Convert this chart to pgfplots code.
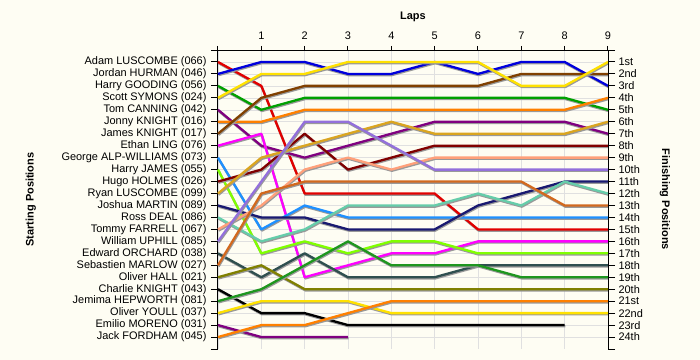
\documentclass[border=0pt]{standalone}
\usepackage{pgfplots}
\pgfplotsset{compat=1.18}
\usepackage{fontspec}
\setmainfont{Liberation Sans}
\definecolor{bg}{RGB}{254,253,243}
\definecolor{c1}{RGB}{225,0,0}
\definecolor{c2}{RGB}{0,0,220}
\definecolor{c3}{RGB}{0,160,0}
\definecolor{c4}{RGB}{255,225,0}
\definecolor{c5}{RGB}{128,0,128}
\definecolor{c6}{RGB}{255,128,0}
\definecolor{c7}{RGB}{128,64,0}
\definecolor{c8}{RGB}{255,0,255}
\definecolor{c9}{RGB}{30,144,255}
\definecolor{c10}{RGB}{128,255,0}
\definecolor{c11}{RGB}{128,0,0}
\definecolor{c12}{RGB}{218,165,32}
\definecolor{c13}{RGB}{25,25,112}
\definecolor{c14}{RGB}{102,205,170}
\definecolor{c15}{RGB}{255,160,122}
\definecolor{c16}{RGB}{147,112,219}
\definecolor{c17}{RGB}{47,79,79}
\definecolor{c18}{RGB}{210,105,30}
\definecolor{c19}{RGB}{128,128,0}
\definecolor{c20}{RGB}{0,0,0}
\definecolor{c21}{RGB}{30,150,30}
\definecolor{c22}{RGB}{255,225,0}
\definecolor{c23}{RGB}{128,0,128}
\definecolor{c24}{RGB}{255,128,0}
\begin{document}
\begin{tikzpicture}
\fill[bg] (-218bp,-11bp) rectangle (482bp,349bp);
\begin{axis}[
  at={(0,0)}, anchor=south west,
  scale only axis, width=390bp, height=299bp,
  xmin=0, xmax=9, ymin=0, ymax=25, y dir=reverse,
  axis x line*=top, axis y line*=left,
  axis line style={line width=1bp, black},
  tick align=outside,
  major tick length=7bp,
  xtick style={/pgfplots/major tick length=4bp, line width=1bp, black},
  ytick style={line width=1bp, black},
  xtick={0,...,9}, xticklabels={,1,2,3,4,5,6,7,8,9},
  ytick={1,...,24},
  yticklabels={Adam LUSCOMBE (066),Jordan HURMAN (046),Harry GOODING (056),Scott SYMONS (024),Tom CANNING (042),Jonny KNIGHT (016),James KNIGHT (017),Ethan LING (076),George ALP-WILLIAMS (073),Harry JAMES (055),Hugo HOLMES (026),Ryan LUSCOMBE (099),Joshua MARTIN (089),Ross DEAL (086),Tommy FARRELL (067),William UPHILL (085),Edward ORCHARD (038),Sebastien MARLOW (027),Oliver HALL (021),Charlie KNIGHT (043),Jemima HEPWORTH (081),Oliver YOULL (037),Emilio MORENO (031),Jack FORDHAM (045)},
  extra y ticks={0,25}, extra y tick labels={},
  extra y tick style={grid=none},
  grid=major, grid style={line width=0.6bp, black!12},
  tick label style={font=\fontsize{11}{12}\selectfont},
  yticklabel style={xshift=-1bp},
  xlabel={\textbf{Laps}}, ylabel={\textbf{Starting Positions}},
  label style={font=\fontsize{11}{12}\selectfont},
  xlabel style={at={(axis description cs:0.5,1.11)}, anchor=center},
  ylabel style={at={(axis description cs:-0.48,0.5)}, anchor=center, rotate=0},
  every axis plot/.append style={line width=2.3bp, no markers, line join=round,
    preaction={draw=black!40, line width=2.3bp, transform canvas={xshift=0.6bp,yshift=-1.2bp}}},
  clip=false,
]
\addplot[c1] coordinates {(0,1)(1,3)(2,12)(3,12)(4,12)(5,12)(6,15)(7,15)(8,15)(9,15)};
\addplot[c2] coordinates {(0,2)(1,1)(2,1)(3,2)(4,2)(5,1)(6,2)(7,1)(8,1)(9,3)};
\addplot[c3] coordinates {(0,3)(1,5)(2,4)(3,4)(4,4)(5,4)(6,4)(7,4)(8,4)(9,5)};
\addplot[c5] coordinates {(0,5)(1,8)(2,9)(3,8)(4,7)(5,6)(6,6)(7,6)(8,6)(9,7)};
\addplot[c6] coordinates {(0,6)(1,6)(2,5)(3,5)(4,5)(5,5)(6,5)(7,5)(8,5)(9,4)};
\addplot[c7] coordinates {(0,7)(1,4)(2,3)(3,3)(4,3)(5,3)(6,3)(7,2)(8,2)(9,2)};
\addplot[c8] coordinates {(0,8)(1,7)(2,19)(3,18)(4,17)(5,17)(6,16)(7,16)(8,16)(9,16)};
\addplot[c9] coordinates {(0,9)(1,15)(2,13)(3,14)(4,14)(5,14)(6,14)(7,14)(8,14)(9,14)};
\addplot[c10] coordinates {(0,10)(1,17)(2,16)(3,17)(4,16)(5,16)(6,17)(7,17)(8,17)(9,17)};
\addplot[c11] coordinates {(0,11)(1,10)(2,7)(3,10)(4,9)(5,8)(6,8)(7,8)(8,8)(9,8)};
\addplot[c12] coordinates {(0,12)(1,9)(2,8)(3,7)(4,6)(5,7)(6,7)(7,7)(8,7)(9,6)};
\addplot[c13] coordinates {(0,13)(1,14)(2,14)(3,15)(4,15)(5,15)(6,13)(7,12)(8,11)(9,11)};
\addplot[c14] coordinates {(0,14)(1,16)(2,15)(3,13)(4,13)(5,13)(6,12)(7,13)(8,11)(9,12)};
\addplot[c15] coordinates {(0,15)(1,13)(2,10)(3,9)(4,10)(5,9)(6,9)(7,9)(8,9)(9,9)};
\addplot[c16] coordinates {(0,16)(1,11)(2,6)(3,6)(4,8)(5,10)(6,10)(7,10)(8,10)(9,10)};
\addplot[c17] coordinates {(0,17)(1,19)(2,17)(3,19)(4,19)(5,19)(6,18)(7,18)(8,18)(9,18)};
\addplot[c18] coordinates {(0,18)(1,12)(2,11)(3,11)(4,11)(5,11)(6,11)(7,11)(8,13)(9,13)};
\addplot[c19] coordinates {(0,19)(1,18)(2,20)(3,20)(4,20)(5,20)(6,20)(7,20)(8,20)(9,20)};
\addplot[c20] coordinates {(0,20)(1,22)(2,22)(3,23)(4,23)(5,23)(6,23)(7,23)(8,23)};
\addplot[c21] coordinates {(0,21)(1,20)(2,18)(3,16)(4,18)(5,18)(6,18)(7,19)(8,19)(9,19)};
\addplot[c22] coordinates {(0,22)(1,21)(2,21)(3,21)(4,22)(5,22)(6,22)(7,22)(8,22)(9,22)};
\addplot[c23] coordinates {(0,23)(1,24)(2,24)(3,24)};
\addplot[c24] coordinates {(0,24)(1,23)(2,23)(3,22)(4,21)(5,21)(6,21)(7,21)(8,21)(9,21)};
\addplot[c4] coordinates {(0,4)(1,2)(2,2)(3,1)(4,1)(5,1)(6,1)(7,3)(8,3)(9,1)};
\end{axis}
\begin{axis}[
  at={(0,0)}, anchor=south west,
  scale only axis, width=390bp, height=299bp,
  xmin=0, xmax=9, ymin=0, ymax=25, y dir=reverse,
  axis x line=none, axis y line*=right,
  axis line style={line width=1bp, black},
  tick align=outside, major tick length=7bp,
  ytick style={line width=1bp, black},
  ytick={1,...,24},
  yticklabels={1st,2nd,3rd,4th,5th,6th,7th,8th,9th,10th,11th,12th,13th,14th,15th,16th,17th,18th,19th,20th,21st,22nd,23rd,24th},
  extra y ticks={0,25}, extra y tick labels={},
  tick label style={font=\fontsize{11}{12}\selectfont},
  yticklabel style={xshift=0bp},
  ylabel={\textbf{Finishing Positions}},
  label style={font=\fontsize{11}{12}\selectfont},
  ylabel style={at={(axis description cs:1.146,0.5)}, anchor=center, rotate=180},
]
\end{axis}
\end{tikzpicture}
\end{document}
